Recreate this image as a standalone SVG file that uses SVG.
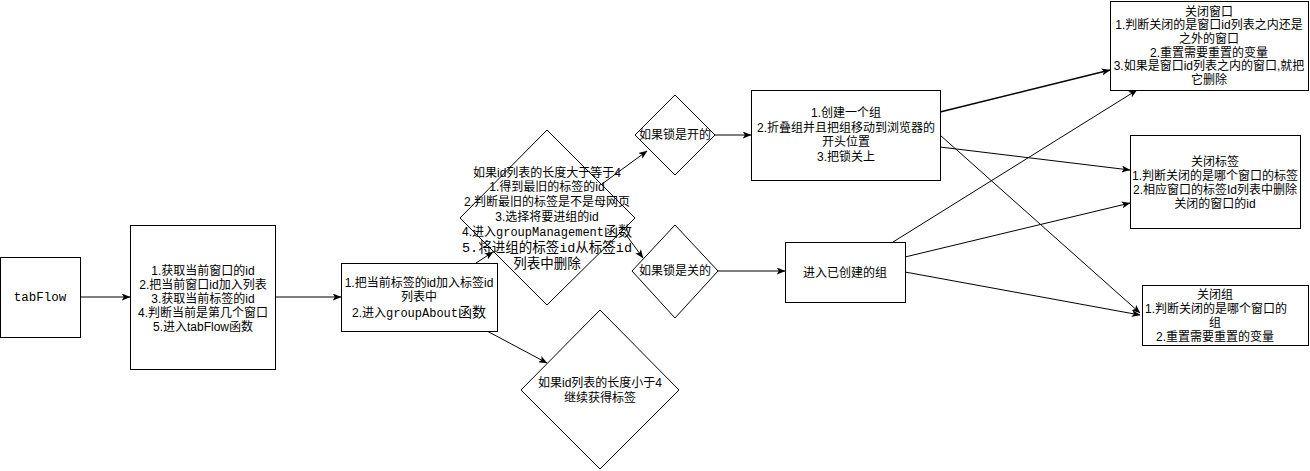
<svg xmlns="http://www.w3.org/2000/svg" width="1310" height="471" viewBox="0 0 1310 471">
<defs>
<marker id="arr" viewBox="0 0 10 8" refX="9.5" refY="4" markerWidth="9" markerHeight="7" orient="auto" markerUnits="userSpaceOnUse">
<path d="M0,0 L10,4 L0,8 L2.5,4 z" fill="#000"/>
</marker>
</defs>
<style>
.s{fill:#fff;stroke:#000;stroke-width:1}
.t{font-family:"Liberation Sans","Noto Sans CJK SC",sans-serif;font-size:12px;fill:#000;text-anchor:middle}
.m{font-family:"Liberation Mono","Noto Sans CJK SC",monospace}
.big{font-size:14px}
.c{fill:none;stroke:#000;stroke-width:1;marker-end:url(#arr)}
</style>
<rect width="1310" height="471" fill="#fff"/>
<g id="connectors">
<line class="c" x1="80" y1="297" x2="130" y2="297"/>
<line class="c" x1="275" y1="297" x2="341" y2="297"/>
<line class="c" x1="476" y1="263" x2="493" y2="252"/>
<line class="c" x1="487" y1="331" x2="547" y2="363"/>
<line class="c" x1="602" y1="184" x2="647" y2="151"/>
<line class="c" x1="624" y1="232" x2="643" y2="258"/>
<line class="c" x1="715" y1="135" x2="751" y2="135"/>
<line class="c" x1="718" y1="271" x2="785" y2="271"/>
<line class="c" x1="940" y1="112" x2="1110" y2="70" style="stroke-width:1.5"/>
<line class="c" x1="940" y1="135" x2="1140" y2="313"/>
<line class="c" x1="940" y1="147" x2="1130" y2="170"/>
<line class="c" x1="893" y1="242" x2="1137" y2="90"/>
<line class="c" x1="905" y1="257" x2="1130" y2="203"/>
<line class="c" x1="905" y1="272" x2="1140" y2="315"/>
</g>
<g id="tabFlow">
<rect class="s" x="0.5" y="257.5" width="80" height="80"/>
<text class="t m" x="40" y="301" style="font-size:12.5px">tabFlow</text>
</g>
<g id="step1">
<rect class="s" x="130.5" y="225.5" width="145" height="144"/>
<text class="t" x="203" y="275">1.获取当前窗口的id</text>
<text class="t" x="203" y="289">2.把当前窗口id加入列表</text>
<text class="t" x="203" y="303">3.获取当前标签的id</text>
<text class="t" x="203" y="317">4.判断当前是第几个窗口</text>
<text class="t" x="203" y="331">5.进入tabFlow函数</text>
</g>
<g id="step2">
<rect class="s" x="341.5" y="263.5" width="156" height="68"/>
<text class="t" x="419" y="287">1.把当前标签的id加入标签id</text>
<text class="t" x="419" y="301">列表中</text>
<text class="t" x="419" y="317">2.进入<tspan class="m">groupAbout</tspan><tspan class="big">函数</tspan></text>
</g>
<g id="cond-ge4">
<polygon class="s" points="547,130 635,218 547,305 460,218"/>
<text class="t" x="547" y="177">如果id列表的长度大于等于4</text>
<text class="t" x="547" y="191">1.得到最旧的标签的id</text>
<text class="t" x="547" y="206">2.判断最旧的标签是不是母网页</text>
<text class="t" x="547" y="221">3.选择将要进组的id</text>
<text class="t" x="547" y="236">4.进入<tspan class="m">groupManagement</tspan><tspan class="big">函数</tspan></text>
<text class="t m" x="547" y="252" style="font-size:13.5px">5.将进组的标签id从标签id</text>
<text class="t m" x="547" y="268" style="font-size:13.5px">列表中删除</text>
</g>
<g id="cond-lt4">
<polygon class="s" points="600,310 679,390 600,469 521,390"/>
<text class="t" x="600" y="387">如果id列表的长度小于4</text>
<text class="t" x="600" y="402">继续获得标签</text>
</g>
<g id="lock-open">
<polygon class="s" points="675,95 715,135 675,175 635,135"/>
<text class="t" x="675" y="139">如果锁是开的</text>
</g>
<g id="lock-closed">
<polygon class="s" points="675,225 718,271 675,318 632,271"/>
<text class="t" x="675" y="275">如果锁是关的</text>
</g>
<g id="create-group">
<rect class="s" x="751.5" y="90.5" width="189" height="90"/>
<text class="t" x="846" y="117">1.创建一个组</text>
<text class="t" x="846" y="132">2.折叠组并且把组移动到浏览器的</text>
<text class="t" x="846" y="146">开头位置</text>
<text class="t" x="846" y="161">3.把锁关上</text>
</g>
<g id="enter-group">
<rect class="s" x="785.5" y="242.5" width="120" height="60"/>
<text class="t" x="845" y="277">进入已创建的组</text>
</g>
<g id="close-window">
<rect class="s" x="1110.5" y="1.5" width="198" height="89"/>
<text class="t" x="1209" y="15.5">关闭窗口</text>
<text class="t" x="1209" y="29">1.判断关闭的是窗口id列表之内还是</text>
<text class="t" x="1209" y="42.5">之外的窗口</text>
<text class="t" x="1209" y="56.5">2.重置需要重置的变量</text>
<text class="t" x="1209" y="70">3.如果是窗口id列表之内的窗口,就把</text>
<text class="t" x="1209" y="84">它删除</text>
</g>
<g id="close-tab">
<rect class="s" x="1130.5" y="135.5" width="170" height="93"/>
<text class="t" x="1215" y="166">关闭标签</text>
<text class="t" x="1215" y="180">1.判断关闭的是哪个窗口的标签</text>
<text class="t" x="1215" y="194">2.相应窗口的标签Id列表中删除</text>
<text class="t" x="1215" y="208">关闭的窗口的id</text>
</g>
<g id="close-group">
<rect class="s" x="1142.5" y="285.5" width="166" height="60"/>
<text class="t" x="1215" y="299">关闭组</text>
<text class="t" x="1216" y="313">1.判断关闭的是哪个窗口的</text>
<text class="t" x="1215" y="327">组</text>
<text class="t" x="1215" y="341">2.重置需要重置的变量</text>
</g>
</svg>
